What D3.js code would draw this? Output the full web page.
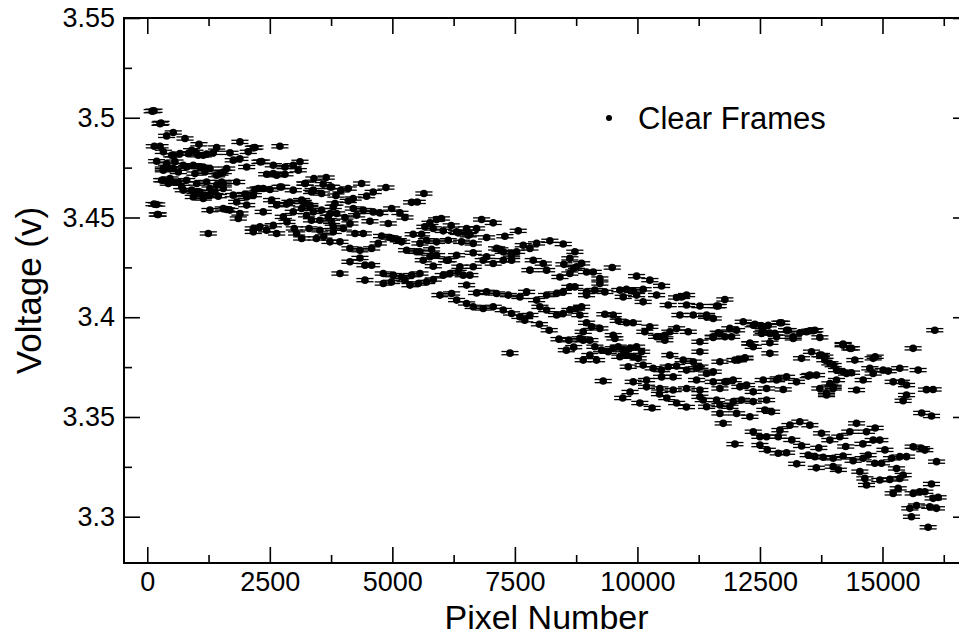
<!DOCTYPE html>
<html>
<head>
<meta charset="utf-8">
<script src="https://d3js.org/d3.v7.min.js"></script>
<style>
body { margin: 0; background: #fff; }
svg text { font-family: "Liberation Sans", Arial, Helvetica, sans-serif; }
</style>
</head>
<body>
<svg id="chart" width="959" height="635"></svg>
<script>

// Clear frames: [pixel number, voltage]
var clearFrames = [
  [137,3.5035],[100,3.5033],[280,3.4974],[395,3.4909],[530,3.4926],[770,3.4896],[143,3.4857],[260,3.4857],
  [1055,3.4867],[1890,3.4879],[2706,3.4857],[905,3.4837],[1415,3.4851],[1687,3.4824],[2060,3.4829],[2197,3.4851],
  [192,3.4782],[530,3.4812],[1040,3.4812],[1212,3.4817],[1346,3.4824],[1754,3.4787],[1890,3.4794],[2028,3.4753],
  [2334,3.478],[2571,3.4762],[2809,3.4753],[2978,3.4762],[3115,3.4779],[327,3.4745],[530,3.4745],[804,3.4753],
  [1075,3.4753],[1279,3.4745],[1483,3.472],[1620,3.4745],[2436,3.4717],[2571,3.472],[2809,3.4717],[3081,3.4737],
  [294,3.4687],[428,3.467],[565,3.4678],[702,3.4653],[906,3.4637],[1075,3.4628],[1279,3.4645],[1518,3.4678],
  [1824,3.4678],[1143,3.4595],[1449,3.4607],[1754,3.4612],[1993,3.4617],[2197,3.464],[2366,3.4645],[2707,3.4653],
  [2978,3.4637],[3222,3.467],[3386,3.4637],[137,3.4567],[224,3.4515],[1279,3.4537],[1620,3.454],[1891,3.452],
  [2366,3.4528],[2640,3.4562],[2844,3.4567],[3182,3.4578],[3318,3.4553],
  [1550,3.4545],[1687,3.4537],[1857,3.4495],[2163,3.4445],[2299,3.4453],[2435,3.4436],[2571,3.4461],[2776,3.4503],
  [2978,3.4528],[3149,3.4545],[3250,3.4511],[3386,3.4528],[3522,3.4486],[3692,3.4503],[3794,3.4453],[1245,3.442],
  [2163,3.4428],[2640,3.442],[3047,3.442],[3522,3.4436],[3794,3.4428],[2163,3.4849],[260,3.497],[328,3.4829],
  [498,3.4812],[667,3.482],[837,3.482],[973,3.4829],[1143,3.4812],[395,3.477],[565,3.478],[735,3.4762],
  [939,3.4762],[1143,3.4753],[2299,3.4779],[328,3.4737],[463,3.4745],[633,3.4728],[973,3.472],[1177,3.4728],
  [1415,3.4712],[1550,3.4728],[2640,3.4712],[328,3.4687],[463,3.4695],[633,3.4678],[804,3.4687],[1008,3.467],
  [1212,3.4678],[1415,3.4662],[1550,3.467],[735,3.4637],[973,3.4628],[1177,3.4612],[1381,3.4628],[1550,3.4645],
  [939,3.4603],[1143,3.4603],[1279,3.4612],[192,3.4565],[204,3.4515],[2265,3.4645],[2503,3.464],[2741,3.4653],
  [3217,3.467],[3590,3.4667],[3761,3.4653],[3353,3.4628],[3557,3.462],[2028,3.4603],[2163,3.4612],[1824,3.4578],
  [2028,3.4562],[2537,3.4587],[2911,3.4578],[3149,3.4587],[3318,3.4562],[3557,3.4537],[3794,3.4553],
  [3300,3.4445],[3450,3.4395],[3600,3.4405],[3000,3.4445],[2850,3.4478],[3150,3.4395],[3350,3.4486],[3850,3.461],
  [3950,3.4636],[4100,3.4645],[4200,3.4595],[3400,3.4695],[3650,3.47],
  [3733,3.4653],[4373,3.467],[4610,3.4628],[4869,3.465],[4475,3.4607],[5644,3.462],[5393,3.4576],[5508,3.4578],
  [3829,3.457],[4101,3.4583],[4203,3.4545],[4407,3.4537],[4610,3.4528],[4746,3.4523],[4985,3.4545],[5155,3.4523],
  [5257,3.45],[3733,3.452],[3864,3.452],[4033,3.45],[4271,3.4511],[3761,3.4478],[4135,3.447],[4543,3.4481],
  [4917,3.447],[4000,3.4445],[4237,3.442],[4407,3.442],[4780,3.4407],[4950,3.44],[5120,3.4386],[5425,3.4416],
  [5597,3.4416],[5903,3.449],[5767,3.4473],[5664,3.4453],[5834,3.4445],[6038,3.4433],[6344,3.4423],[6515,3.4445],
  [6821,3.449],[7058,3.4473],[3727,3.4378],[3931,3.4378],[4135,3.4345],[4339,3.4336],[4577,3.4345],[4712,3.437],
  [5018,3.4395],[5189,3.4378],[5563,3.437],[5699,3.4386],[5903,3.4378],[6140,3.4386],[6311,3.4428],[6413,3.4378],
  [6549,3.4411],[6650,3.437],[5563,3.4328],[5801,3.434],[5903,3.4311],[6140,3.4286],[6650,3.4323],[6923,3.4303],
  [7194,3.434],[7433,3.432],[6923,3.44],[7296,3.4406],[7568,3.4433],[7943,3.437],[8214,3.4383],
  [4441,3.4261],[4577,3.4261],[3931,3.4219],[4441,3.4186],[4815,3.4219],[5018,3.4211],[5189,3.4202],[5393,3.4211],
  [5563,3.4219],[4815,3.4169],[4985,3.4177],[5257,3.4186],[5359,3.4161],[5529,3.4169],[5699,3.4177],[5835,3.4189],
  [6038,3.4211],[6174,3.4219],[6344,3.4227],[6446,3.4211],[6582,3.4211],[5971,3.4111],[6209,3.4119],[6515,3.4161],
  [6719,3.4122],[6923,3.4127],[7127,3.4119],[7365,3.4111],[7603,3.4102],[7739,3.4127],[7943,3.4086],[8147,3.4111],
  [8351,3.4119],[8486,3.4127],[8622,3.4152],[8724,3.4152],[6311,3.4086],[6515,3.4069],[6650,3.4052],[6854,3.4044],
  [7058,3.4052],[7262,3.4036],[7433,3.4019],[7603,3.4002],[7807,3.4011],[8011,3.4052],[8147,3.4036],[8351,3.4011],
  [8486,3.4019],[8622,3.4036],[8758,3.4044],
  [6582,3.4416],[6718,3.4445],[7671,3.4361],[7807,3.4345],[8486,3.4367],[8724,3.4328],[8622,3.4295],[7127,3.4345],
  [7262,3.4328],[7433,3.4311],[7535,3.4328],[7875,3.4286],[8079,3.4269],[7807,3.4236],[8147,3.4236],[8419,3.4202],
  [8622,3.4219],[8758,3.4253],[6650,3.4253],[6854,3.4286],[7058,3.4269],[7262,3.4286],[7433,3.4286],[5631,3.4286],
  [5835,3.4256],[6107,3.4286],[6378,3.4253],[5291,3.4336],[5495,3.4328],[5767,3.4303],[6311,3.4311],[4135,3.4278],
  [4339,3.4297],[6000,3.4495],[6200,3.446],[7400,3.382],[8200,3.3935],[8400,3.389],[8600,3.3885],[8000,3.3965],
  [7700,3.3985],[8700,3.385],[8550,3.3835],[8500,3.4265],[8700,3.4245],
  [8861,3.427],[9486,3.4249],[8962,3.4227],[9098,3.4227],[9234,3.4194],[9234,3.4169],[9132,3.4136],[8962,3.4111],
  [9983,3.4206],[10254,3.4186],[10493,3.4157],[9640,3.4136],[9776,3.414],[9913,3.4132],[10117,3.414],[9711,3.4102],
  [9983,3.4111],[10117,3.4077],[10391,3.4111],[9336,3.4127],[8962,3.4127],[10628,3.4061],[10799,3.4099],[11003,3.4111],
  [10901,3.4102],[11003,3.4061],[11275,3.4056],[11615,3.4056],[11784,3.4089],[8861,3.4052],[8826,3.4011],[9336,3.4015],
  [9506,3.4011],[9608,3.3982],[9778,3.3972],[9913,3.3972],[10867,3.4011],[11139,3.4011],[11411,3.4002],[11547,3.3994],
  [8962,3.3972],[9064,3.3952],[9234,3.3944],[9506,3.391],[9540,3.3894],[8894,3.3927],[8894,3.3885],
  [10254,3.3952],[10152,3.3927],[10391,3.3902],[10560,3.391],[10662,3.3927],[10798,3.3944],[11037,3.3927],[11275,3.3877],
  [11547,3.3902],[11683,3.3919],[11785,3.3902],[11886,3.3944],[12023,3.3935],[12159,3.3977],[12363,3.396],[12533,3.3952],
  [12669,3.396],[12906,3.3972],[13043,3.3935],[12804,3.3919],[13178,3.3902],[13314,3.3922],[13518,3.3932],[13620,3.3935],
  [13722,3.3899],[12567,3.3927],[12703,3.3919],[12295,3.3869],[12363,3.3852],[12703,3.3819],
  [8826,3.3894],[9030,3.3885],[9132,3.3852],[9268,3.3835],[9404,3.3827],[9506,3.3844],[9710,3.3835],[9846,3.3844],
  [9983,3.3852],[10085,3.3827],[9643,3.3802],[9778,3.381],[9914,3.3802],[10016,3.3794],[9030,3.381],[8894,3.3785],
  [9166,3.3785],[9608,3.3852],[10459,3.3902],[10560,3.3885],[10662,3.381],[10934,3.3785],[11139,3.3777],[11207,3.3744],
  [11547,3.3727],[12057,3.3785],[12192,3.3794],[9813,3.3752],[10117,3.376],[10321,3.3744],[10493,3.3735],[10628,3.3752],
  [10799,3.3755],
  [9302,3.368],[9914,3.3676],[10186,3.3685],[10493,3.3701],[10730,3.3701],[11003,3.3735],[11207,3.3685],[11547,3.3676],
  [11818,3.3676],[11954,3.3685],[12567,3.3685],[12839,3.3685],[13043,3.3701],[13246,3.3676],[13518,3.371],[13654,3.371],
  [13926,3.3668],[14062,3.3685],[14470,3.3635],[14606,3.3685],[14810,3.3718],
  [10186,3.3651],[10458,3.3643],[10730,3.3635],[11003,3.3643],[11275,3.3635],[11683,3.3643],[12090,3.3651],[12363,3.3626],
  [12635,3.3643],[12975,3.3638],[13722,3.3643],[13858,3.3618],[13994,3.3651],
  [14197,3.3865],[14334,3.3844],[14851,3.3802],[13348,3.3794],[13552,3.3827],[13722,3.381],[13824,3.3802],[13926,3.3769],
  [14062,3.3735],[14266,3.3718],
  [9700,3.3595],[10050,3.357],[10300,3.3545],[10600,3.3595],[10800,3.357],[11000,3.355],[10450,3.3615],[9850,3.3625],
  [11649,3.4056],[11411,3.4011],[12397,3.3965],[12941,3.3972],[12533,3.3919],[13077,3.3935],[13450,3.3927],[13586,3.3932],
  [13179,3.3894],[12839,3.3902],[11649,3.3922],[11921,3.3902],[11547,3.3899],[12295,3.3869],[12703,3.3872],[14197,3.386],
  [14368,3.3844],[15625,3.3844],[16067,3.3935],[13756,3.381],[13824,3.3785],[13994,3.376],[14197,3.3727],[14368,3.3722],
  [14436,3.3785],[14810,3.3794],[14742,3.3744],[15014,3.3735],[15116,3.373],[15353,3.3744],[15727,3.3735],
  [11275,3.3827],[11683,3.3777],[11989,3.3785],[12193,3.3797],[11275,3.3752],[11411,3.3718],[11785,3.3676],[12227,3.366],
  [12873,3.3693],[13484,3.3705],[13994,3.3643],[13858,3.361],[15218,3.3676],[15388,3.3676],[15490,3.366],[15490,3.361],
  [15421,3.3581],[15897,3.3637],[16033,3.3638],
  [11275,3.3601],[11343,3.3585],[11615,3.3585],[11955,3.3577],[11411,3.3551],[11683,3.356],[11887,3.3551],[12125,3.3585],
  [12363,3.3577],[12635,3.3585],[12601,3.3535],[12737,3.3526],[12295,3.3501],[12023,3.3518],[11683,3.3518],[11750,3.3468],
  [11989,3.3364],[12363,3.3426],[12499,3.3401],[12499,3.3359],[12635,3.3401],[12873,3.3401],[12907,3.3434],[13111,3.3459],
  [13314,3.3476],[13518,3.3459],[13756,3.3418],[13926,3.3384],[14130,3.3401],[14334,3.3426],[14470,3.3468],[14674,3.3426],
  [14810,3.3384],[14946,3.3384],
  [12873,3.3318],[13043,3.3321],[13484,3.3309],[13620,3.3301],[13790,3.3298],[13994,3.3293],[14197,3.3304],[14401,3.3281],
  [14605,3.3293],[14707,3.3309],[14843,3.3268],[14980,3.3268],[15184,3.3293],[15354,3.3301],[15490,3.3301],[15626,3.3351],
  [15796,3.3343],[15864,3.3334],[16103,3.3276],[13994,3.3251],[14538,3.3226],[14640,3.3192],[14674,3.3159],[14946,3.3184],
  [15150,3.3187],[15354,3.3192],[15286,3.3242],[15422,3.3209],[15218,3.3117],[15320,3.3142],[15626,3.3117],[15761,3.3125],
  [15864,3.3125],[16033,3.3092],[16101,3.3042],[15965,3.305],[15558,3.3042],[15592,3.3],[15931,3.2947],[15694,3.3056],
  [15999,3.3164],[16135,3.3097],[16000,3.3505],[15800,3.352],
  [13150,3.3385],[13350,3.3355],[13700,3.3345],[14250,3.3352],[14600,3.3365],[13250,3.3265],[14100,3.3235],[15050,3.3335],
  [13650,3.3245],[12650,3.3335],[14850,3.3445]
];
var xErr = 175;   // half width of the horizontal error bar, in pixel numbers

var xMajor = [0, 2500, 5000, 7500, 10000, 12500, 15000];
var xMinor = [1250, 3750, 6250, 8750, 11250, 13750, 16250];
var yMajor = [3.3, 3.35, 3.4, 3.45, 3.5, 3.55];
var yMinor = [3.325, 3.375, 3.425, 3.475, 3.525];

var svg = d3.select("#chart");
var plotL = 124, plotR = 969, plotT = 18, plotB = 563;

var x = d3.scaleLinear().domain([-475, 16765]).range([plotL, plotR]);
var y = d3.scaleLinear().domain([3.2768, 3.55]).range([plotB, plotT]);

function styleAxis(g, size) {
  g.select(".domain").remove();
  g.selectAll(".tick line").attr("stroke", "#000").attr("stroke-width", 1.6);
  g.attr("font-size", size).attr("font-family", null);
  g.selectAll("text").attr("fill", "#000");
}

// bottom + top
svg.append("g").attr("transform", "translate(0," + plotB + ")")
  .call(d3.axisBottom(x).tickValues(xMajor).tickSize(-16).tickPadding(9).tickFormat(d3.format("d")))
  .call(styleAxis, 27);
svg.append("g").attr("transform", "translate(0," + plotB + ")")
  .call(d3.axisBottom(x).tickValues(xMinor).tickSize(-8).tickFormat(""))
  .call(styleAxis, 27);
svg.append("g").attr("transform", "translate(0," + plotT + ")")
  .call(d3.axisTop(x).tickValues(xMajor).tickSize(-16).tickFormat(""))
  .call(styleAxis, 27);
svg.append("g").attr("transform", "translate(0," + plotT + ")")
  .call(d3.axisTop(x).tickValues(xMinor).tickSize(-8).tickFormat(""))
  .call(styleAxis, 27);

// left + right
svg.append("g").attr("transform", "translate(" + plotL + ",0)")
  .call(d3.axisLeft(y).tickValues(yMajor).tickSize(-16).tickPadding(9).tickFormat(function(d) { return String(+d.toFixed(2)); }))
  .call(styleAxis, 27);
svg.append("g").attr("transform", "translate(" + plotL + ",0)")
  .call(d3.axisLeft(y).tickValues(yMinor).tickSize(-8).tickFormat(""))
  .call(styleAxis, 27);
svg.append("g").attr("transform", "translate(" + plotR + ",0)")
  .call(d3.axisRight(y).tickValues(yMajor).tickSize(-16).tickFormat(""))
  .call(styleAxis, 27);
svg.append("g").attr("transform", "translate(" + plotR + ",0)")
  .call(d3.axisRight(y).tickValues(yMinor).tickSize(-8).tickFormat(""))
  .call(styleAxis, 27);

svg.append("rect")
  .attr("x", plotL).attr("y", plotT)
  .attr("width", plotR - plotL).attr("height", plotB - plotT)
  .attr("fill", "none").attr("stroke", "#000").attr("stroke-width", 2);

// error bars, drawn as the doubled line seen in the picture
var bars = svg.append("g").attr("stroke", "#000").attr("stroke-width", 1.3);
[-1.6, 1.6].forEach(function(off) {
  bars.selectAll(null).data(clearFrames).enter().append("line")
    .attr("x1", function(d) { return x(d[0] - xErr); })
    .attr("x2", function(d) { return x(d[0] + xErr); })
    .attr("y1", function(d) { return y(d[1]) + off; })
    .attr("y2", function(d) { return y(d[1]) + off; });
});

svg.append("g").selectAll("circle").data(clearFrames).enter().append("circle")
  .attr("cx", function(d) { return x(d[0]); })
  .attr("cy", function(d) { return y(d[1]); })
  .attr("r", 3.8)
  .attr("fill", "#000");

// titles
svg.append("text")
  .attr("x", (plotL + plotR) / 2).attr("y", 629)
  .attr("text-anchor", "middle").attr("font-size", 34)
  .text("Pixel Number");
svg.append("text")
  .attr("transform", "translate(41," + (plotT + plotB) / 2 + ") rotate(-90)")
  .attr("text-anchor", "middle").attr("font-size", 35)
  .text("Voltage (v)");

// legend
svg.append("circle").attr("cx", 609).attr("cy", 118).attr("r", 3).attr("fill", "#000");
svg.append("text").attr("x", 638).attr("y", 129).attr("font-size", 31).text("Clear Frames");

</script>
</body>
</html>
